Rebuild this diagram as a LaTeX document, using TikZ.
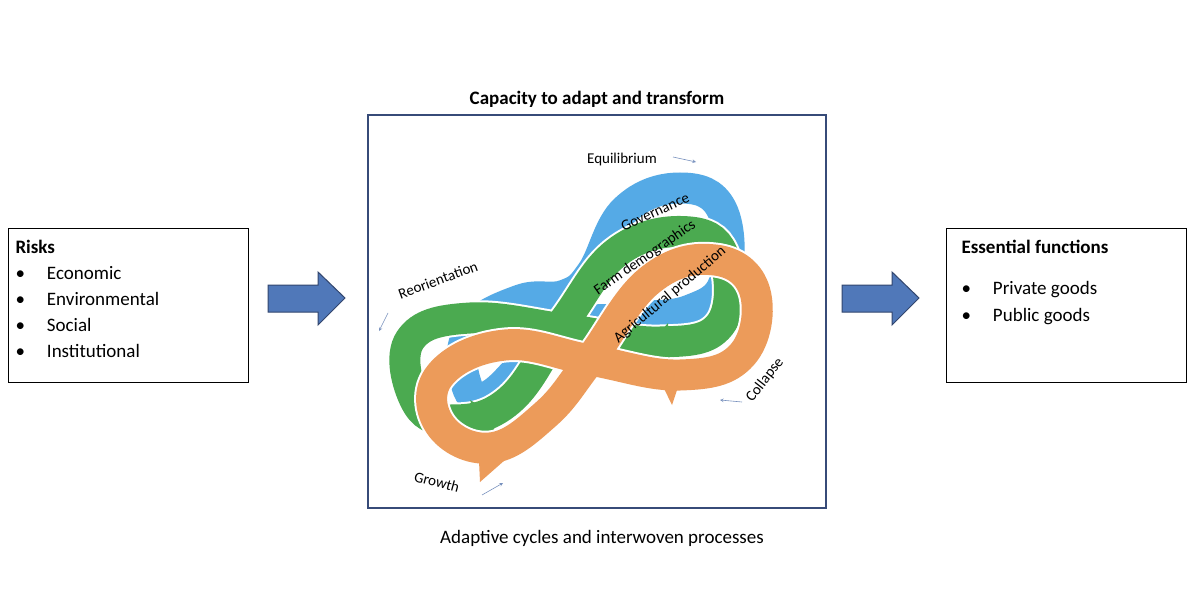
\documentclass[tikz,border=0pt]{standalone}
\usepackage{fontspec}
\setmainfont{Carlito}
\begin{document}
\begin{tikzpicture}[x=1pt,y=-1pt,
  box/.style={draw=black,line width=0.8pt,fill=white},
  frame/.style={draw={rgb,255:red,55;green,75;blue,120},line width=2.5pt},
  barrow/.style={draw={rgb,255:red,50;green,70;blue,110},fill={rgb,255:red,80;green,120;blue,185},line width=1pt},
  lab/.style={font=\fontsize{15}{17}\selectfont},
  small/.style={->,draw={rgb,255:red,120;green,145;blue,190},line width=0.6pt,>=stealth},
  rib/.style={line width=31pt},
  ribw/.style={line width=35pt,white}]
\definecolor{cb}{RGB}{85,170,230}
\definecolor{cg}{RGB}{75,170,80}
\definecolor{co}{RGB}{236,155,90}
\useasboundingbox (0,0) rectangle (1200,599);
\fill[white] (0,0) rectangle (1200,599);
\coordinate (f1) at (368,115); \coordinate (f2) at (826,508);
\draw[frame] (f1) rectangle (f2);
\node[font=\bfseries\fontsize{19}{22}\selectfont] (title) at (597,99) {Capacity to adapt and transform};
\node[font=\fontsize{19}{22}\selectfont] (cap) at (602,538) {Adaptive cycles and interwoven processes};
% boxes
\draw[box] (8,228) rectangle (248,382);
\node[anchor=north west,align=left,font=\fontsize{19}{26}\selectfont] (risks) at (12,237)
 {\textbf{Risks}\\
 •\hspace{22pt}Economic\\ •\hspace{22pt}Environmental\\ •\hspace{22pt}Social\\ •\hspace{22pt}Institutional};
\draw[box] (946,228) rectangle (1186,382);
\node[anchor=north west,align=left,font=\fontsize{19}{27}\selectfont] (ess) at (958,237)
 {\textbf{Essential functions}\\[14pt]
 •\hspace{22pt}Private goods\\ •\hspace{22pt}Public goods};
\draw[barrow] (268,285) -- (318,285) -- (318,272) -- (345,298) -- (318,325) -- (318,312) -- (268,312) -- cycle;
\draw[barrow] (842,285) -- (892,285) -- (892,272) -- (919,298) -- (892,325) -- (892,312) -- (842,312) -- cycle;
% blue ribbon
\def\bpts{(592,272) (625,210) (680,188) (722,210) (725,280) (690,310) (630,318) (560,330) (490,395) (465,380) (470,330) (520,300) (565,295)}
\draw[ribw] plot[smooth cycle,tension=0.7] coordinates {\bpts};
\draw[rib,color=cb] plot[smooth cycle,tension=0.7] coordinates {\bpts};
% green ribbon
\def\gpts{(565,320) (620,250) (690,232) (725,260) (720,325) (660,342) (570,330) (470,318) (410,340) (415,400) (450,420) (510,400)}
\draw[ribw] plot[smooth cycle,tension=0.7] coordinates {\gpts};
\draw[rib,color=cg] plot[smooth cycle,tension=0.7] coordinates {\gpts};
\fill[cg] (470,400) -- (485,445) -- (500,418) -- cycle;
\fill[cg] (668,323) -- (670,368) -- (645,350) -- cycle;
% orange ribbon
\def\opts{(590,360) (650,280) (715,260) (755,292) (742,355) (680,375) (590,360) (505,345) (440,375) (440,425) (490,448) (545,415)}
\draw[ribw] plot[smooth cycle,tension=0.7] coordinates {\opts};
\draw[rib,color=co] plot[smooth cycle,tension=0.7] coordinates {\opts};
\fill[co] (478,440) -- (480,482) -- (505,460) -- cycle;
\fill[co] (655,370) -- (672,405) -- (682,375) -- cycle;
% labels
\node[lab,rotate=25,text=black] (gov) at (655,212) {Governance};
\node[lab,rotate=35,text=black] (farm) at (645,258) {Farm demographics};
\node[lab,rotate=40,text=black] (agr) at (670,295) {Agricultural production};
\node[lab] (eq) at (622,160) {Equilibrium};
\coordinate (eq1) at (673,157); \coordinate (eq2) at (696,162);
\draw[small] (eq1) -- (eq2);
\node[lab,rotate=20] (re) at (438,280) {Reorientation};
\coordinate (re1) at (388,313); \coordinate (re2) at (379,331);
\draw[small] (re1) -- (re2);
\node[lab,rotate=52] (co) at (765,380) {Collapse};
\coordinate (co1) at (742,402); \coordinate (co2) at (720,400);
\draw[small] (co1) -- (co2);
\node[lab,rotate=-15] (gr) at (437,482) {Growth};
\coordinate (gr1) at (482,495); \coordinate (gr2) at (503,483);
\draw[small] (gr1) -- (gr2);
\end{tikzpicture}
\end{document}
